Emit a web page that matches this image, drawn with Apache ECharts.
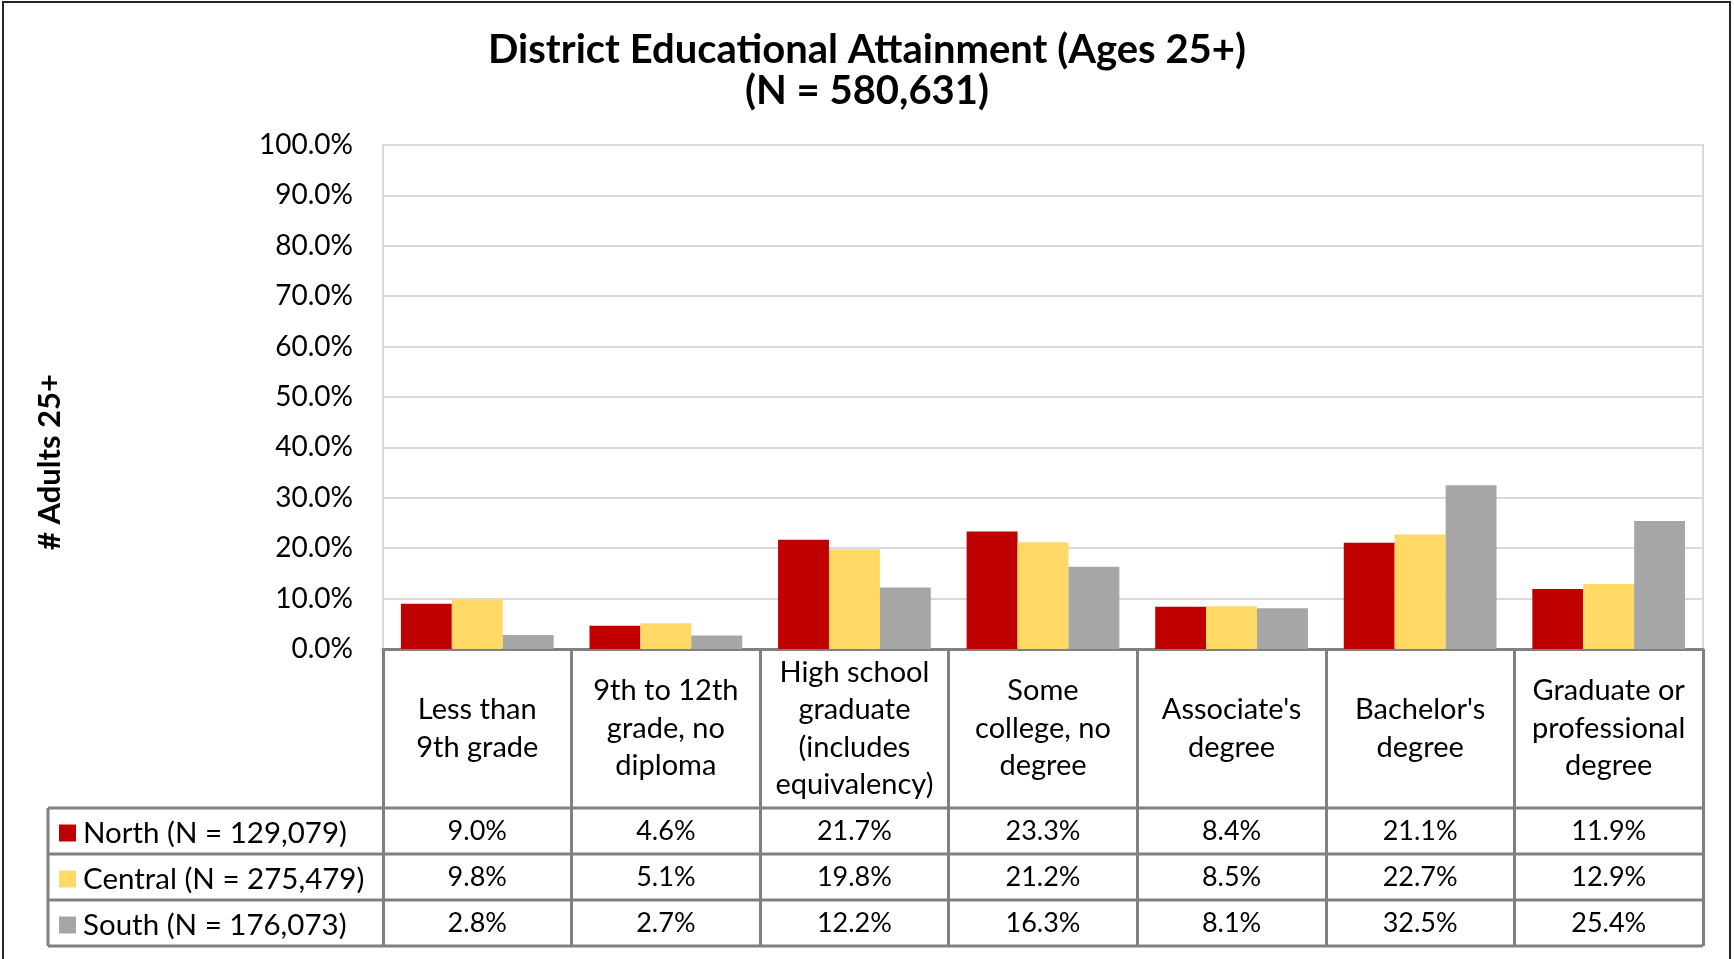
<!DOCTYPE html>
<html>
<head>
<meta charset="utf-8">
<script src="https://cdn.jsdelivr.net/npm/echarts@6/dist/echarts.min.js"></script>
<style>
  html, body { margin: 0; padding: 0; background: #fff; }
  #breakChart { width: 1734px; height: 959px; }
</style>
</head>
<body>
<div id="breakChart"></div>
<script>
// data
var categories = [
  "Less than\n9th grade",
  "9th to 12th\ngrade, no\ndiploma",
  "High school\ngraduate\n(includes\nequivalency)",
  "Some\ncollege, no\ndegree",
  "Associate's\ndegree",
  "Bachelor's\ndegree",
  "Graduate or\nprofessional\ndegree"
];
var seriesNames = ["North (N = 129,079)", "Central (N = 275,479)", "South (N = 176,073)"];
var north = [9.0, 4.6, 21.7, 23.3, 8.4, 21.1, 11.9];
var central = [9.8, 5.1, 19.8, 21.2, 8.5, 22.7, 12.9];
var south = [2.8, 2.7, 12.2, 16.3, 8.1, 32.5, 25.4];
var yTicks = [0, 10, 20, 30, 40, 50, 60, 70, 80, 90, 100];

var colors = ["#c00000", "#ffd966", "#a6a6a6"];
var font = "Lato, 'Open Sans', sans-serif";
var lineColor = "#808080";

// layout
var gridLeft = 383, gridRight = 1703, gridTop = 145, gridBottom = 649;
var catRowBottom = 808;
var rowH = 46;
var tableLeft = 48;
var tableBottom = catRowBottom + rowH * 3;

function echartTable() {
  var myChart = echarts.init(document.getElementById("breakChart"));
  var rows = [north, central, south];

  var option = {
    animation: false,
    color: colors,
    title: {
      text: "District Educational Attainment (Ages 25+)\n(N = 580,631)",
      left: "center",
      top: 25,
      textStyle: {
        fontFamily: font,
        fontWeight: "bold",
        fontSize: 40,
        lineHeight: 41,
        color: "#000"
      }
    },
    legend: {
      orient: "vertical",
      left: 54,
      top: catRowBottom + 5,
      itemWidth: 17,
      itemHeight: 17,
      itemGap: 16,
      icon: "rect",
      data: seriesNames,
      textStyle: {
        fontFamily: font,
        fontSize: 29.5,
        lineHeight: 30,
        color: "#000",
        padding: [0, 0, 0, 2]
      }
    },
    grid: {
      show: true,
      borderColor: "#d9d9d9",
      borderWidth: 2,
      left: gridLeft,
      right: 1734 - gridRight,
      top: gridTop,
      bottom: 959 - gridBottom,
      containLabel: false
    },
    xAxis: {
      type: "category",
      data: categories,
      axisLine: { show: true, lineStyle: { color: lineColor, width: 3 } },
      axisTick: {
        show: true,
        interval: 0,
        length: tableBottom - gridBottom,
        lineStyle: { color: lineColor, width: 3 }
      },
      axisLabel: {
        interval: 0,
        margin: (catRowBottom - gridBottom) / 2,
        verticalAlign: "middle",
        fontFamily: font,
        fontSize: 29,
        lineHeight: 37.5,
        color: "#000",
        align: "center"
      }
    },
    yAxis: {
      type: "value",
      min: yTicks[0],
      max: yTicks[yTicks.length - 1],
      interval: yTicks[1] - yTicks[0],
      axisLine: { show: false },
      axisTick: { show: false },
      splitLine: { lineStyle: { color: "#d9d9d9", width: 2 } },
      axisLabel: {
        margin: 30,
        fontFamily: font,
        fontSize: 28,
        color: "#000",
        formatter: function (v) { return v.toFixed(1) + "%"; }
      }
    },
    series: rows.map(function (d, i) {
      return {
        name: seriesNames[i],
        type: "bar",
        data: d,
        barGap: "0%",
        barCategoryGap: "19%",
        itemStyle: { color: colors[i] }
      };
    })
  };

  myChart.setOption(option);

  // data table below the chart
  var g = [];
  g.push({
    type: "rect",
    shape: { x: 3, y: 2, width: 1727, height: 970 },
    style: { fill: "none", stroke: "#262626", lineWidth: 2 },
    silent: true
  });
  g.push({
    type: "line",
    shape: { x1: gridLeft, y1: catRowBottom, x2: gridRight, y2: catRowBottom },
    style: { stroke: lineColor, lineWidth: 3 }
  });
  for (var r = 1; r <= 3; r++) {
    var y = catRowBottom + rowH * r;
    g.push({
      type: "line",
      shape: { x1: tableLeft, y1: y, x2: gridRight, y2: y },
      style: { stroke: lineColor, lineWidth: 3 }
    });
  }
  g.push({
    type: "line",
    shape: { x1: tableLeft, y1: catRowBottom, x2: tableLeft, y2: tableBottom },
    style: { stroke: lineColor, lineWidth: 3 }
  });
  g.push({
    type: "line",
    shape: { x1: tableLeft, y1: catRowBottom, x2: gridLeft, y2: catRowBottom },
    style: { stroke: lineColor, lineWidth: 3 }
  });
  rows.forEach(function (d, r) {
    d.forEach(function (v, i) {
      var x = myChart.convertToPixel({ xAxisIndex: 0 }, i);
      g.push({
        type: "text",
        x: x,
        y: catRowBottom + rowH * r + rowH / 2,
        style: {
          text: v.toFixed(1) + "%",
          fontFamily: font,
          fontSize: 27,
          fill: "#000",
          align: "center",
          verticalAlign: "middle"
        }
      });
    });
  });
  // y axis title
  g.push({
    type: "text",
    x: 50,
    y: 462,
    rotation: Math.PI / 2,
    style: {
      text: "# Adults 25+",
      fontFamily: font,
      fontSize: 31,
      fontWeight: "bold",
      fill: "#000",
      align: "center",
      verticalAlign: "middle"
    }
  });

  myChart.setOption({ graphic: g });
}

echartTable();
</script>
</body>
</html>
